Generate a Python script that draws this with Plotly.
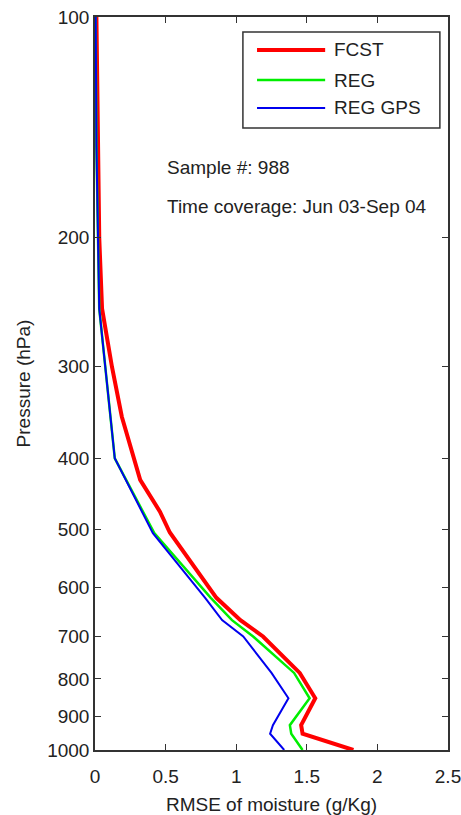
import plotly.graph_objects as go

# Pressure levels (hPa) and RMSE values (g/Kg)
fcst_p = [1000, 950, 925, 850, 785, 700, 665, 620, 505, 473, 428, 351, 300, 250, 200, 150, 100]
fcst_x = [1.83, 1.47, 1.46, 1.56, 1.45, 1.19, 1.03, 0.86, 0.53, 0.46, 0.32, 0.19, 0.12, 0.05, 0.03, 0.02, 0.01]

reg_p = [1000, 950, 925, 850, 785, 700, 665, 620, 506, 428, 400, 250, 200, 150, 100]
reg_x = [1.47, 1.39, 1.38, 1.52, 1.41, 1.12, 0.97, 0.82, 0.42, 0.22, 0.14, 0.03, 0.02, 0.01, 0.005]

gps_p = [1000, 950, 925, 850, 785, 700, 665, 620, 506, 428, 400, 250, 200, 150, 100]
gps_x = [1.34, 1.24, 1.26, 1.37, 1.25, 1.05, 0.90, 0.78, 0.41, 0.22, 0.14, 0.03, 0.02, 0.01, 0.005]

series_names = ["FCST", "REG", "REG GPS"]
series_colors = ["#ff0000", "#00ee00", "#0000ee"]
series_widths = [4, 2.5, 2]

y_ticks = [100, 200, 300, 400, 500, 600, 700, 800, 900, 1000]
x_ticks = [0, 0.5, 1, 1.5, 2, 2.5]
x_tick_labels = ["0", "0.5", "1", "1.5", "2", "2.5"]

font_family = "Liberation Sans, Arial, sans-serif"
txt_color = "#222"
fs = 19

fig = go.Figure()
for (xs, ps), name, col, w in zip([(fcst_x, fcst_p), (reg_x, reg_p), (gps_x, gps_p)],
                                  series_names, series_colors, series_widths):
    fig.add_trace(go.Scatter(x=xs, y=ps, mode="lines", name=name,
                             line=dict(color=col, width=w), showlegend=False))

# Legend drawn as a boxed key (paper coordinates)
shapes = [dict(type="rect", xref="paper", yref="paper", x0=0.419, x1=0.977, y0=0.8486, y1=0.9795,
               line=dict(color="#333", width=1.5), fillcolor="white", layer="above")]
annotations = []
row_y = [0.955, 0.914, 0.876]
for name, col, w, yy in zip(series_names, series_colors, series_widths, row_y):
    shapes.append(dict(type="line", xref="paper", yref="paper", x0=0.459, x1=0.652, y0=yy, y1=yy,
                       line=dict(color=col, width=w), layer="above"))
    annotations.append(dict(x=0.672, y=yy, xref="paper", yref="paper", text=name, showarrow=False,
                            xanchor="left", yanchor="middle", font=dict(size=fs, color=txt_color)))

annotations += [
    dict(x=0.198, y=0.794, xref="paper", yref="paper", text="Sample #: 988",
         showarrow=False, xanchor="left", yanchor="middle", font=dict(size=fs, color=txt_color)),
    dict(x=0.198, y=0.741, xref="paper", yref="paper", text="Time coverage: Jun 03-Sep 04",
         showarrow=False, xanchor="left", yanchor="middle", font=dict(size=fs, color=txt_color)),
]

fig.update_layout(
    width=461, height=815,
    margin=dict(l=95, r=13, t=17, b=65, autoexpand=False),
    paper_bgcolor="white", plot_bgcolor="white",
    font=dict(family=font_family, size=fs, color=txt_color),
    showlegend=False,
    shapes=shapes,
    annotations=annotations,
)

fig.update_xaxes(range=[0, 2.5], tickvals=x_ticks, ticktext=x_tick_labels, automargin=False,
                 ticklabeloverflow="allow",
                 ticks="inside", ticklen=6, tickcolor="#333", showline=True, linecolor="#333",
                 linewidth=1.5, mirror="ticks", showgrid=False, zeroline=False,
                 ticklabelstandoff=8,
                 title=dict(text="RMSE of moisture (g/Kg)", standoff=16, font=dict(size=fs)),
                 tickfont=dict(size=fs))
fig.update_yaxes(type="log", range=[3, 2], tickvals=y_ticks, ticktext=[str(v) for v in y_ticks],
                 automargin=False, ticklabeloverflow="allow",
                 ticks="inside", ticklen=6, tickcolor="#333", showline=True, linecolor="#333",
                 linewidth=1.5, mirror="ticks", showgrid=False, zeroline=False,
                 title=dict(text="Pressure (hPa)", standoff=12, font=dict(size=fs)),
                 tickfont=dict(size=fs))

fig.write_html("out.html")
